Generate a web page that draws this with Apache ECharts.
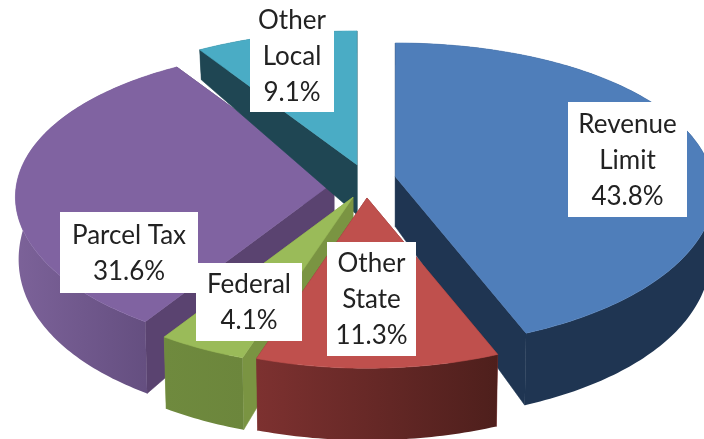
<!DOCTYPE html>
<html>
<head>
<meta charset="utf-8">
<style>html,body{margin:0;padding:0;background:#fff}#c{width:704px;height:439px}</style>
<script src="https://cdn.jsdelivr.net/npm/echarts@6/dist/echarts.min.js"></script>
</head>
<body>
<div id="c"></div>
<script>
const categories = ['Revenue\nLimit', 'Other\nState', 'Federal', 'Parcel Tax', 'Other\nLocal'];
const values = [43.8, 11.3, 4.1, 31.6, 9.1];
const topColors = ['#4F7EBA', '#BF504D', '#9ABB59', '#8063A1', '#4AACC5'];
const cutColors = ['#1F3552', '#7D3130', '#7A9442', '#5A4370', '#1F4653'];
const wallLeft  = ['#1F3552', '#7D3130', '#6F8A3E', '#7C6299', '#1F4653'];
const wallRight = ['#1F3552', '#4E1F1C', '#6C863C', '#5F4A7A', '#1F4653'];
const paintOrder = [2, 4, 3, 0, 1]; /* rank of each slice, back to front */
const labelBoxes = [[568,102,687,217],[327,242,416,356],[196,263,302,341],[60,212,198,293],[250,0,334,112]];
const nudges = [[-1,-2],[1,-1],[2,0],[1,0],[1,-1]];

const G = {cx:365, cy:182, rx:317, ry:152, px:0.10, py:0.12, ex:32, ey:17, apexDepth:50, fold:0.99};
const total = values.reduce((a,b)=>a+b,0);
const starts = []; values.reduce((a,v,i)=>(starts[i]=a, a+v), 0);

function rim(ax, ay, t){
  const u = Math.sin(t), v = -Math.cos(t);
  return [ax + G.rx*u*(1+G.px*v), ay + G.ry*v*(1+G.py*v), v];
}
function rimDepth(v){ return 60 + 24.9*v - 12.9*v*v; }
function drop(p, ax){
  return [ax + (p[0]-ax)*G.fold, p[1] + rimDepth(p[2])];
}
function poly(points, fill, z2){
  return {type:'polygon', z2, shape:{points}, style:{fill, stroke:typeof fill==='string'?fill:'none', lineWidth:0.6}, silent:true};
}
function renderItem(params, api){
  const i = api.value(0), val = api.value(1);
  const a0 = starts[i]/total*2*Math.PI, a1 = (starts[i]+val)/total*2*Math.PI, m = (a0+a1)/2;
  const ax = G.cx + G.ex*Math.sin(m) + nudges[i][0], ay = G.cy - G.ey*Math.cos(m) + nudges[i][1];
  const n = Math.max(8, Math.ceil((a1-a0)*60));
  const arc = [];
  for(let k=0;k<=n;k++) arc.push(rim(ax, ay, a0+(a1-a0)*k/n));
  const base = paintOrder[i]*10;
  const bottom = arc.map(p=>drop(p,ax));
  const apexBottom = [ax, ay+G.apexDepth];
  const first = arc[0], last = arc[n];
  const xy = p=>[p[0],p[1]];
  const grad = {type:'linear',x:0,y:0,x2:1,y2:0,colorStops:[{offset:0,color:wallLeft[i]},{offset:1,color:wallRight[i]}]};
  const children = [
    poly([[ax,ay],xy(first),bottom[0],apexBottom], cutColors[i], base+1),
    poly([[ax,ay],xy(last),bottom[n],apexBottom], cutColors[i], base+2),
    poly(arc.map(xy).concat(bottom.slice().reverse()), grad, base+3),
    poly([[ax,ay]].concat(arc.map(xy)), topColors[i], base+4)
  ];
  const b = labelBoxes[i];
  const text = categories[i] + '\n' + (val/total*100).toFixed(1) + '%';
  children.push({type:'rect', z2:200, silent:true, shape:{x:b[0],y:b[1],width:b[2]-b[0],height:b[3]-b[1]}, style:{fill:'#fff'}});
  children.push({type:'text', z2:201, silent:true,
    x:(b[0]+b[2])/2, y: i===4 ? 57 : (b[1]+b[3])/2 + 1,
    style:{text, fill:'#222', font:'26px Lato', lineHeight:36, align:'center', verticalAlign:'middle'}});
  return {type:'group', children};
}
const chart = echarts.init(document.getElementById('c'), null, {renderer:'canvas', width:704, height:439});
chart.setOption({
  animation:false,
  backgroundColor:'#fff',
  series:[{type:'custom', coordinateSystem:'none', clip:false, silent:true,
    data: values.map((v,i)=>[i,v]), renderItem}]
});
</script>
</body>
</html>
